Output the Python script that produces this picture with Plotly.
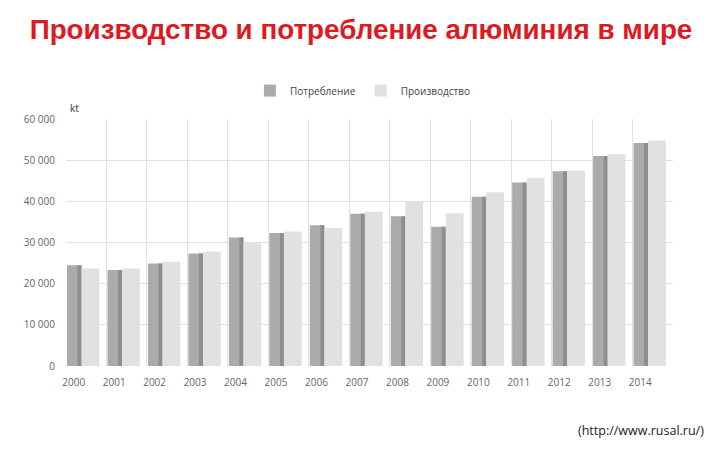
import plotly.graph_objects as go

years = ["2000", "2001", "2002", "2003", "2004", "2005", "2006", "2007",
         "2008", "2009", "2010", "2011", "2012", "2013", "2014"]
consumption = [24500, 23300, 24900, 27350, 31200, 32300, 34200, 37000,
               36400, 33800, 41100, 44600, 47300, 51000, 54200]
production = [23700, 23700, 25300, 27800, 30000, 32700, 33500, 37500,
              40000, 37100, 42200, 45700, 47500, 51500, 54800]
y_ticks = [0, 10000, 20000, 30000, 40000, 50000, 60000]

idx = list(range(len(years)))

fig = go.Figure()
fig.add_trace(go.Bar(
    x=idx, y=consumption, name="Потребление",
    offset=-0.475, width=0.36,
    marker=dict(color="#ababab", line=dict(width=0)),
))
fig.add_trace(go.Bar(
    x=idx, y=consumption, name="side", showlegend=False,
    offset=-0.215, width=0.1, hoverinfo="skip",
    marker=dict(color="#8e8e8e", line=dict(width=0)),
))
fig.add_trace(go.Bar(
    x=idx, y=production, name="Производство",
    offset=-0.115, width=0.44,
    marker=dict(color="#e1e1e1", line=dict(width=0)),
))

fig.update_layout(
    width=720, height=450,
    barmode="overlay",
    paper_bgcolor="white", plot_bgcolor="white",
    margin=dict(l=58, r=55, t=111, b=92, autoexpand=False),
    separators=". ",
    font=dict(family="Open Sans", size=10, color="#555555"),
    title=dict(
        text="Производство и потребление алюминия в мире",
        x=353 / 720, xref="container", xanchor="center",
        y=1 - 21 / 450, yref="container", yanchor="middle",
        font=dict(family="Liberation Sans", size=27.8, color="#dc1a1f", weight="bold"),
    ),
    legend=dict(
        orientation="h", x=0.303, xanchor="left", y=1.115, yanchor="middle",
        font=dict(family="Open Sans", size=10, color="#444444"),
        itemwidth=30, traceorder="normal",
    ),
    showlegend=True,
    xaxis=dict(
        range=[-0.5, 14.5], automargin=False,
        tickmode="array", tickvals=[i - 0.31 for i in idx], ticktext=years,
        showgrid=False, zeroline=False, showline=False, ticks="",
        ticklabelstandoff=9,
        tickfont=dict(family="Open Sans", size=10, color="#666666"),
    ),
    xaxis2=dict(
        overlaying="x", matches="x", side="bottom", automargin=False,
        tickmode="array", tickvals=[i - 0.5 for i in idx] + [14.5],
        showgrid=True, gridcolor="#e2e2e2", gridwidth=1,
        showticklabels=False, zeroline=False, showline=False, ticks="",
    ),
    yaxis=dict(
        range=[0, 60000], tickmode="array", tickvals=y_ticks, automargin=False,
        tickformat=",d",
        showgrid=True, gridcolor="#e2e2e2", gridwidth=1,
        zeroline=False, showline=False, ticks="",
        ticklabelstandoff=10,
        tickfont=dict(family="Open Sans", size=10, color="#666666"),
    ),
    annotations=[
        dict(text="kt", xref="paper", yref="paper", x=0.003, y=1.01,
             xanchor="left", yanchor="bottom", showarrow=False,
             font=dict(family="Open Sans", size=10, color="#333333")),
        dict(text="(http://www.rusal.ru/)", xref="paper", yref="paper",
             x=(706 - 66) / 607, y=(366 - 430) / 247,
             xanchor="right", yanchor="middle", showarrow=False,
             font=dict(family="Open Sans", size=12.5, color="#222222")),
    ],
)

# invisible trace to activate xaxis2 gridlines
fig.add_trace(go.Scatter(x=[0], y=[0], xaxis="x2", mode="markers",
                         marker=dict(opacity=0), showlegend=False, hoverinfo="skip"))

fig.write_html("out.html")
